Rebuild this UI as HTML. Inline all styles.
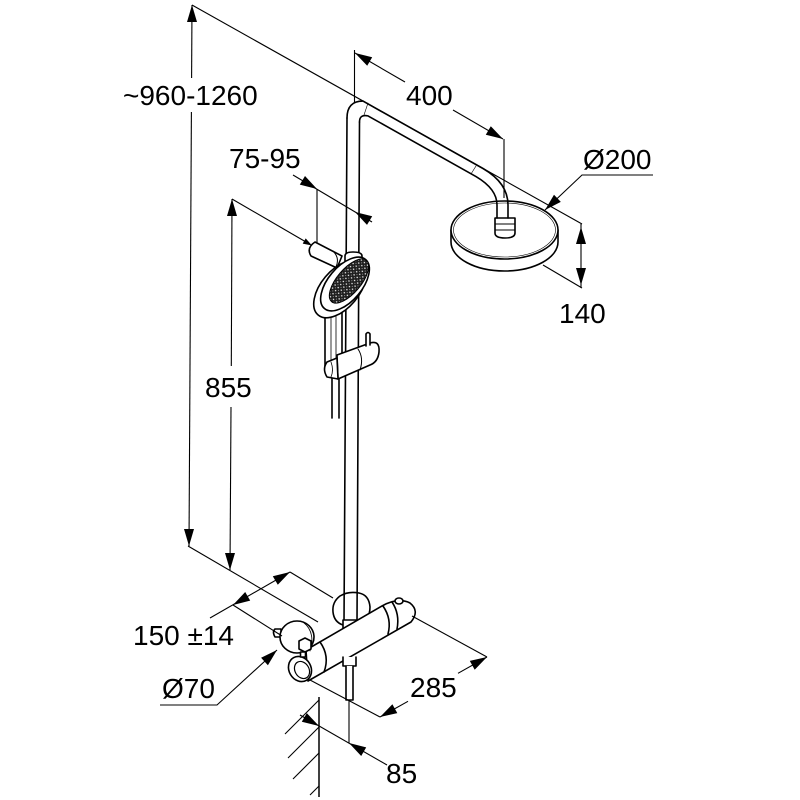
<!DOCTYPE html>
<html><head><meta charset="utf-8">
<style>
html,body{margin:0;padding:0;background:#fff;}
svg{display:block;}
text{font-family:"Liberation Sans",Arial,sans-serif;font-size:28px;fill:#000;}
</style></head><body>
<svg width="800" height="800" viewBox="0 0 800 800" xmlns="http://www.w3.org/2000/svg">
<defs>
  <pattern id="dots" width="4" height="4" patternUnits="userSpaceOnUse">
    <rect width="4" height="4" fill="#1e1e1e"/>
    <circle cx="1" cy="1" r="0.7" fill="#fff"/>
    <circle cx="3" cy="3" r="0.5" fill="#bbb"/>
  </pattern>
</defs>
<rect width="800" height="800" fill="#fff"/>

<!-- ============ OBJECTS ============ -->
<g stroke="#000" stroke-width="1.6" fill="#fff" stroke-linejoin="round" stroke-linecap="round">
  <!-- shower head -->
  <path d="M451,230 L451,242 A53.5,29 0 0 0 558,242 L558,230 Z"/>
  <ellipse cx="504.5" cy="230" rx="53.5" ry="29"/>
  <ellipse cx="504.5" cy="230" rx="51" ry="27" fill="none" stroke-width="0.6"/>
  <!-- head nut -->
  <path d="M495,218 L515,218 L515,233 Q515,238 505,238 Q495,238 495,233 Z"/>
  <line x1="495" y1="224" x2="515" y2="224" stroke-width="1"/>
  <line x1="495" y1="230" x2="515" y2="230" stroke-width="1"/>

  <!-- arm + elbow -->
  <path d="M347,118 Q347,101 363,101.1 L483,168.5 Q508,183 508,205 L508,218" fill="none"/>
  <path d="M359.5,122 Q359.5,114 368,115.9 L476,176.6 Q497,189 497,205 L497,218" fill="none"/>
  <line x1="476" y1="166" x2="471" y2="174" stroke-width="0.6"/>
  <line x1="368" y1="103" x2="364" y2="115" stroke-width="0.6"/>

  <!-- wall bracket (bottom) -->
  <path d="M340,596 Q332,602 333,612 Q334,622 343,625 L358,625 Q370,620 370,607 Q369,595 359,593 Q348,591 340,596 Z"/>

  <!-- riser -->
  <line x1="347" y1="118" x2="344" y2="623" fill="none"/>
  <line x1="359.5" y1="122" x2="357" y2="623" fill="none"/>
  <path d="M343,620 L343,630 Q350,635 357,630 L357,620 Z"/>

  <!-- top holder bracket -->
  <path d="M315,242 L342,256 L337,268 L311,256 Q306,248 315,242 Z"/>
  <path d="M333,251 Q340,258 336,267" fill="none" stroke-width="1"/>
  <path d="M345,256 Q345,252 353,252 Q362,252 362,256 L362,262 Q362,266 353,266 Q345,266 345,262 Z"/>

  <!-- hose -->
  <line x1="332" y1="375" x2="332" y2="418" fill="none"/>
  <line x1="339" y1="375" x2="339" y2="418" fill="none"/>

  <!-- handle -->
  <path d="M325,300 L342,300 L342,366 L325,366 Z"/>
  <line x1="331" y1="312" x2="331" y2="364" stroke-width="0.8"/>
  <line x1="336" y1="312" x2="336" y2="364" stroke-width="0.8"/>

  <!-- hand shower head -->
  <ellipse cx="340" cy="289" rx="34" ry="19" transform="rotate(-50 340 289)"/>
  <ellipse cx="345" cy="284" rx="32" ry="17" transform="rotate(-50 345 284)"/>
  <ellipse cx="349" cy="281" rx="27" ry="12" fill="url(#dots)" stroke-width="1" transform="rotate(-50 349 281)"/>

  <!-- slider -->
  <path d="M337,355 L370,343 Q380,340 379,352 Q378,362 370,365 L338,379 Z"/>
  <path d="M337,358 L327,362 Q322,369 327,377 L338,379 Z"/>
  <path d="M358,349 Q364,358 360,370" fill="none" stroke-width="1"/>
  <path d="M331,362 Q334,370 331,377" fill="none" stroke-width="0.8"/>
  <path d="M366,346 L366,334 Q368,331 370,334 L370,345" />

  <!-- valve body -->
  <path d="M306,650 L382,606 Q398,597 410,603 Q420,611 411,622 L308,681 Z"/>
  <path d="M320,642 Q330,656 324,672" fill="none"/>
  <path d="M383,606 Q392,619 388,634" fill="none"/>
  <path d="M392,602 Q400,614 397,629" fill="none"/>
  <ellipse cx="399" cy="601" rx="4" ry="3"/>
  <!-- left open end -->
  <ellipse cx="300" cy="669" rx="13" ry="11" transform="rotate(60 300 669)"/>
  <ellipse cx="302" cy="670" rx="9" ry="7" transform="rotate(60 302 670)" fill="none" stroke-width="1.2"/>
  <!-- left disc -->
  <path d="M281,629 L275,629 Q272,632 275,637 L281,637 Z"/>
  <ellipse cx="297" cy="637" rx="17" ry="16"/>
  <path d="M303,622 Q316,632 310,651" fill="none" stroke-width="0.8"/>
  <!-- nut -->
  <path d="M299,641 L305,638 L311,641 L311,649 L305,652 L299,649 Z"/>
  <rect x="300.5" y="652" width="5" height="5"/>
  <!-- outlet -->
  <path d="M343,657 L343,666 L356,666 L356,657"/>
  <path d="M346,666 L346,700 L353,700 L353,666"/>
</g>

<!-- ============ DIMENSION LINES ============ -->
<g stroke="#000" stroke-width="1.1" fill="none">
  <line x1="192" y1="5" x2="582" y2="224"/>
  <line x1="192" y1="5" x2="191.6" y2="78"/>
  <line x1="191.4" y1="112" x2="189" y2="546"/>
  <line x1="188" y1="546" x2="318" y2="622"/>
  <line x1="232" y1="199" x2="231.3" y2="366"/>
  <line x1="231" y1="407" x2="230" y2="570"/>
  <line x1="232" y1="199" x2="306" y2="242"/>
  <line x1="354.5" y1="50" x2="354.5" y2="103"/>
  <line x1="355" y1="53" x2="405" y2="82"/>
  <line x1="453" y1="110" x2="503" y2="139"/>
  <line x1="504" y1="139" x2="504" y2="198"/>
  <line x1="293" y1="175" x2="372" y2="222"/>
  <line x1="317" y1="189" x2="317" y2="243"/>
  <polyline points="653,175 582,175 545,210"/>
  <line x1="581" y1="224" x2="581" y2="288"/>
  <line x1="543" y1="265" x2="582" y2="288"/>
  <line x1="210" y1="618" x2="290" y2="572"/>
  <line x1="290" y1="572" x2="333" y2="598"/>
  <line x1="233" y1="605" x2="282" y2="636"/>
  <polyline points="160,705 217,705 277,650"/>
  <line x1="412" y1="616" x2="487" y2="657"/>
  <line x1="310" y1="680" x2="380" y2="717"/>
  <line x1="380" y1="717" x2="408" y2="701.3"/>
  <line x1="458" y1="673.3" x2="487" y2="657"/>
  <line x1="300" y1="715" x2="387" y2="765"/>
  <line x1="349" y1="700" x2="349" y2="743"/>
  <!-- wall -->
  <line x1="319" y1="697" x2="319" y2="797" stroke-width="1.5"/>
  <line x1="319" y1="700" x2="285" y2="734"/>
  <line x1="319" y1="727" x2="288" y2="758"/>
  <line x1="319" y1="753" x2="293" y2="779"/>
  <line x1="319" y1="786" x2="310" y2="795"/>
</g>

<!-- ============ ARROWHEADS ============ -->
<g fill="#000" stroke="none">
  <polygon points="192,5 187,22 197,22"/>
  <polygon points="189,546 184,529 194,529"/>
  <polygon points="232,199 227,216 237,216"/>
  <polygon points="230,570 225,553 235,553"/>
  <polygon points="312,245.5 302.7,243.6 305.7,238.4"/>
  <polygon points="355,53 367.2,65.8 372.2,57.2"/>
  <polygon points="503,139 485.8,134.8 490.8,126.2"/>
  <polygon points="317,189 299.8,184.6 305,176"/>
  <polygon points="355,212 367,224.9 372.2,216.3"/>
  <polygon points="290,572 277.8,584.8 272.8,576.2"/>
  <polygon points="233,605 250.2,600.6 245.2,592"/>
  <polygon points="277,650 267.9,665.2 261.1,657.8"/>
  <polygon points="545,210 554,194.7 560.8,201.9"/>
  <polygon points="581,227 576,244 586,244"/>
  <polygon points="581,285 576,268 586,268"/>
  <polygon points="380,717 397.3,713.1 392.4,704.3"/>
  <polygon points="487,657 474.7,669.7 469.8,660.9"/>
  <polygon points="319,726 301.8,721.7 306.8,713.1"/>
  <polygon points="349,743 361.2,756 366.2,747.4"/>
</g>

<!-- ============ LABELS ============ -->
<text x="123" y="105">~960-1260</text>
<text x="406" y="105">400</text>
<text x="229" y="168">75-95</text>
<text x="583" y="169">Ø200</text>
<text x="559" y="323">140</text>
<text x="205" y="397">855</text>
<text x="133" y="645">150 ±14</text>
<text x="162" y="698">Ø70</text>
<text x="410" y="697">285</text>
<text x="386" y="783">85</text>
</svg>
</body></html>
